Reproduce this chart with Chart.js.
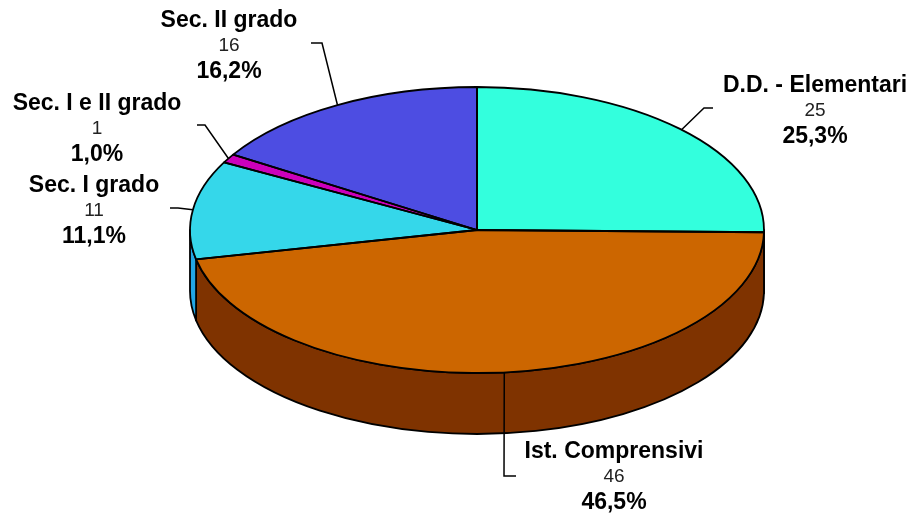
<!DOCTYPE html>
<html>
<head>
    <title>Istituzioni scolastiche</title>
    <script src="https://cdn.jsdelivr.net/npm/chart.js"></script>
    <style>
        body { margin: 0; background: #fff; }
    </style>
</head>
<body>
    <canvas id="myChart" width="912" height="515"></canvas>
    <script>
        // dati
        const categories = ['D.D. - Elementari', 'Ist. Comprensivi', 'Sec. I grado', 'Sec. I e II grado', 'Sec. II grado'];
        const values = [25, 46, 11, 1, 16];

        // colori (faccia superiore / lato)
        const topColors = ['#33FFDD', '#CC6600', '#35D7EA', '#CC00BB', '#4D4DE2'];
        const sideColors = ['#1FB39A', '#7F3300', '#22A6E4', '#880077', '#3030A0'];

        // geometria della torta 3D
        const CX = 477, CY = 230, RX = 287, RY = 143, DEPTH = 61;

        // posizione etichette e linee guida
        const labelPos = [
            { x: 815, y: 86, line: [[713, 108], [704, 108]] },
            { x: 614, y: 452, line: [[516, 476], [504, 476]] },
            { x: 94, y: 186, line: [[170, 208], [178, 208]] },
            { x: 97, y: 104, line: [[197, 125], [205, 125]] },
            { x: 229, y: 21, line: [[311, 43], [322, 43]] }
        ];

        const total = values.reduce((a, b) => a + b, 0);
        const pct = v => (v / total * 100).toFixed(1).replace('.', ',') + '%';

        const pie3d = {
            id: 'pie3d',
            beforeDatasetsDraw(chart) {
                const ctx = chart.ctx;
                const arcs = chart.getDatasetMeta(0).data;
                // lati visibili (metà anteriore)
                ctx.save();
                ctx.lineWidth = 1.8;
                ctx.strokeStyle = '#000';
                ctx.lineJoin = 'round';
                arcs.forEach((arc, i) => {
                    [[0, Math.PI], [2 * Math.PI, 3 * Math.PI]].forEach(([lo, hi]) => {
                        const s = Math.max(arc.startAngle, lo);
                        const e = Math.min(arc.endAngle, hi);
                        if (e - s <= 0.001) return;
                        ctx.beginPath();
                        ctx.ellipse(CX, CY, RX, RY, 0, s, e);
                        ctx.lineTo(CX + RX * Math.cos(e), CY + DEPTH + RY * Math.sin(e));
                        ctx.ellipse(CX, CY + DEPTH, RX, RY, 0, e, s, true);
                        ctx.closePath();
                        ctx.fillStyle = sideColors[i];
                        ctx.fill();
                        ctx.stroke();
                    });
                });
                ctx.restore();
                // schiaccia il cerchio in ellisse per le facce superiori
                const a0 = arcs[0];
                const R = a0.outerRadius;
                ctx.save();
                ctx.translate(CX, CY);
                ctx.scale(RX / R, RY / R);
                ctx.translate(-a0.x, -a0.y);
            },
            afterDatasetsDraw(chart) {
                const ctx = chart.ctx;
                ctx.restore();
                const arcs = chart.getDatasetMeta(0).data;
                ctx.save();
                ctx.lineWidth = 1.8;
                ctx.strokeStyle = '#000';
                ctx.lineJoin = 'round';
                arcs.forEach(arc => {
                    ctx.beginPath();
                    ctx.moveTo(CX, CY);
                    ctx.ellipse(CX, CY, RX, RY, 0, arc.startAngle, arc.endAngle);
                    ctx.closePath();
                    ctx.stroke();
                });
                ctx.restore();
            },
            afterDraw(chart) {
                const ctx = chart.ctx;
                const arcs = chart.getDatasetMeta(0).data;
                ctx.save();
                arcs.forEach((arc, i) => {
                    const p = labelPos[i];
                    const mid = (arc.startAngle + arc.endAngle) / 2;
                    // linea guida
                    ctx.beginPath();
                    ctx.moveTo(p.line[0][0], p.line[0][1]);
                    ctx.lineTo(p.line[1][0], p.line[1][1]);
                    ctx.lineTo(CX + RX * Math.cos(mid), CY + RY * Math.sin(mid));
                    ctx.lineWidth = 1.5;
                    ctx.strokeStyle = '#000';
                    ctx.stroke();
                    // testo
                    ctx.textAlign = 'center';
                    ctx.textBaseline = 'middle';
                    ctx.fillStyle = '#000';
                    ctx.font = 'bold 23px "Liberation Sans", Arial, sans-serif';
                    ctx.fillText(categories[i], p.x, p.y);
                    ctx.font = '19px "Liberation Sans", Arial, sans-serif';
                    ctx.fillStyle = '#222';
                    ctx.fillText(String(values[i]), p.x, p.y + 25);
                    ctx.font = 'bold 23px "Liberation Sans", Arial, sans-serif';
                    ctx.fillStyle = '#000';
                    ctx.fillText(pct(values[i]), p.x, p.y + 51);
                });
                ctx.restore();
            }
        };

        const ctx = document.getElementById('myChart').getContext('2d');
        new Chart(ctx, {
            type: 'pie',
            data: {
                labels: categories,
                datasets: [{
                    data: values,
                    backgroundColor: topColors,
                    borderWidth: 0
                }]
            },
            options: {
                responsive: false,
                animation: false,
                events: [],
                plugins: {
                    legend: { display: false },
                    tooltip: { enabled: false }
                }
            },
            plugins: [pie3d]
        });
    </script>
</body>
</html>
